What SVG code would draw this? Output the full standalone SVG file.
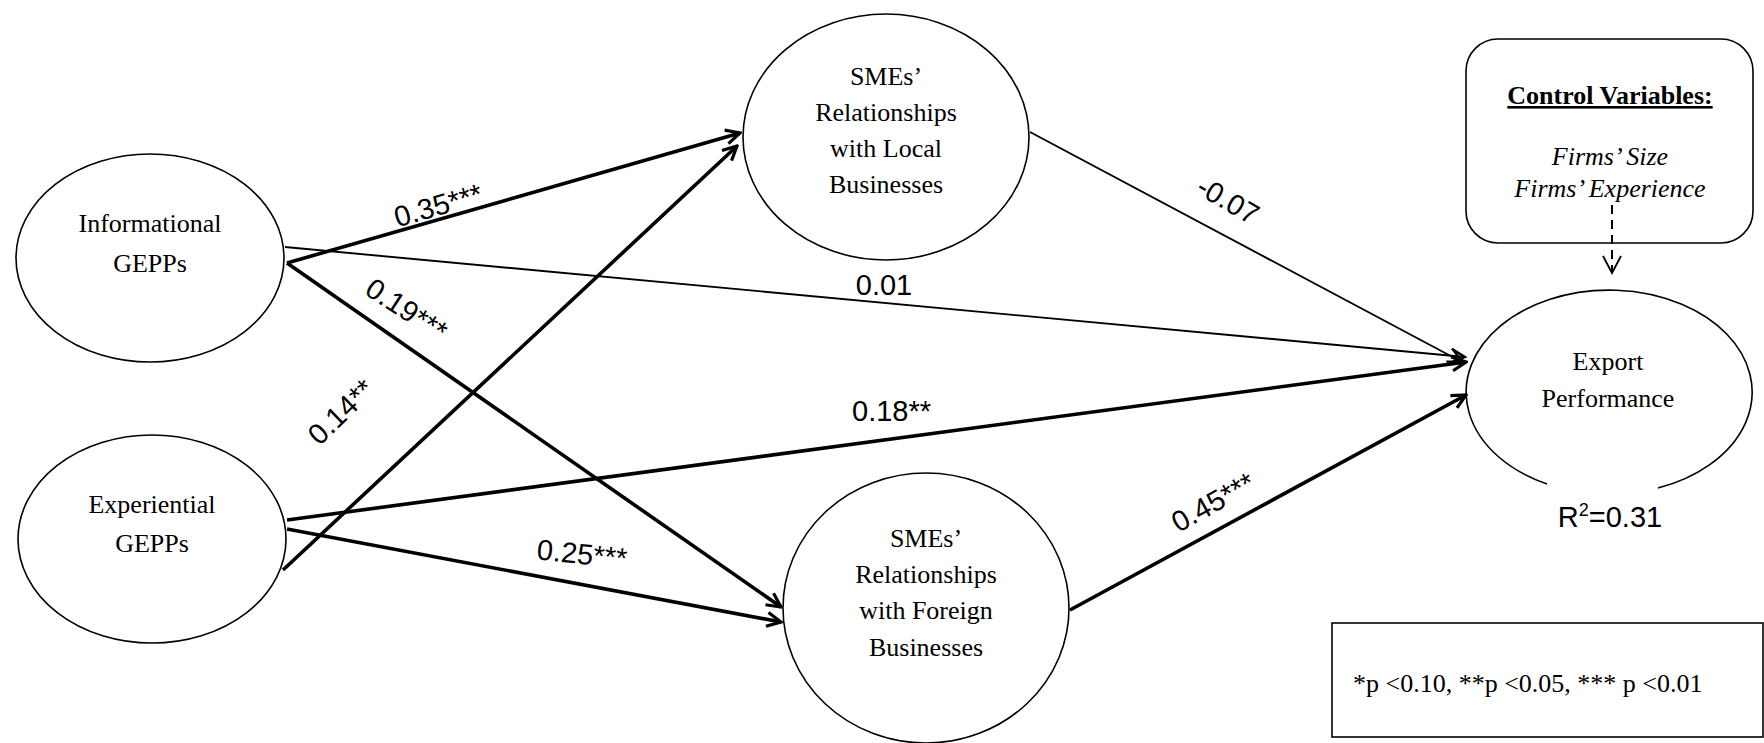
<svg xmlns="http://www.w3.org/2000/svg" width="1764" height="743" viewBox="0 0 1764 743">
<style>
.node{fill:#fff;stroke:#000;stroke-width:1.6}
.lbl{font-family:"Liberation Serif","Times New Roman",serif;font-size:26px;fill:#000;text-anchor:middle}
.coef{font-family:"Liberation Sans",Arial,sans-serif;font-size:29px;fill:#000}
.thick{stroke:#000;stroke-width:3.6;fill:none}
.thin{stroke:#000;stroke-width:1.9;fill:none}
</style>
<defs>
<marker id="ahT" viewBox="0 0 18 18" refX="16" refY="9" markerWidth="18" markerHeight="18" markerUnits="userSpaceOnUse" orient="auto">
<path d="M2,2 L16,9 L2,16" fill="none" stroke="#000" stroke-width="3.2"/>
</marker>
<marker id="ahS" viewBox="0 0 18 18" refX="16" refY="9" markerWidth="18" markerHeight="18" markerUnits="userSpaceOnUse" orient="auto">
<path d="M2,2 L16,9 L2,16" fill="none" stroke="#000" stroke-width="2.4"/>
</marker>
<marker id="ahD" viewBox="0 0 20 20" refX="18" refY="10" markerWidth="20" markerHeight="20" markerUnits="userSpaceOnUse" orient="auto">
<path d="M1,1 L18,10 L1,19" fill="none" stroke="#000" stroke-width="1.8"/>
</marker>
</defs>
<rect width="1764" height="743" fill="#fff"/>

<g id="informational">
<ellipse class="node" cx="150" cy="258" rx="134" ry="104"/>
<text class="lbl" x="150" y="232">Informational</text>
<text class="lbl" x="150" y="272">GEPPs</text>
</g>

<g id="experiential">
<ellipse class="node" cx="152" cy="539" rx="134" ry="104"/>
<text class="lbl" x="152" y="513">Experiential</text>
<text class="lbl" x="152" y="552">GEPPs</text>
</g>

<g id="local">
<ellipse class="node" cx="886" cy="137" rx="143" ry="123"/>
<text class="lbl" x="886" y="85">SMEs’</text>
<text class="lbl" x="886" y="121">Relationships</text>
<text class="lbl" x="886" y="157">with Local</text>
<text class="lbl" x="886" y="193">Businesses</text>
</g>

<g id="foreign">
<ellipse class="node" cx="926" cy="608" rx="143" ry="135"/>
<text class="lbl" x="926" y="547">SMEs’</text>
<text class="lbl" x="926" y="583">Relationships</text>
<text class="lbl" x="926" y="619">with Foreign</text>
<text class="lbl" x="926" y="656">Businesses</text>
</g>

<g id="export">
<path class="node" d="M1547,484 A143,102 0 1 1 1658,488"/>
<text class="lbl" x="1608" y="370">Export</text>
<text class="lbl" x="1608" y="407">Performance</text>
<text class="coef" text-anchor="middle" x="1610" y="527">R<tspan font-size="18" dy="-11">2</tspan><tspan dy="11">=0.31</tspan></text>
</g>

<g id="controls">
<rect class="node" x="1466" y="39" width="287" height="204" rx="32" ry="32"/>
<text class="lbl" x="1610" y="104" font-weight="bold" text-decoration="underline" font-size="27">Control Variables:</text>
<text class="lbl" x="1610" y="165" font-style="italic" font-size="27">Firms’ Size</text>
<text class="lbl" x="1610" y="197" font-style="italic" font-size="27">Firms’ Experience</text>
</g>

<g id="legend">
<rect class="node" x="1332" y="623" width="431" height="114"/>
<text class="lbl" x="1353" y="692" font-size="27" style="text-anchor:start">*p &lt;0.10, **p &lt;0.05, *** p &lt;0.01</text>
</g>

<g id="connectors">
<line class="thin" x1="285" y1="247" x2="1465" y2="357" marker-end="url(#ahS)"/>
<line class="thin" x1="1030" y1="132" x2="1462" y2="362" marker-end="url(#ahS)"/>
<line class="thick" x1="287" y1="263" x2="740" y2="133" marker-end="url(#ahT)"/>
<line class="thick" x1="283" y1="570" x2="737" y2="146" marker-end="url(#ahT)"/>
<line class="thick" x1="287" y1="263" x2="781" y2="607" marker-end="url(#ahT)"/>
<line class="thick" x1="287" y1="529" x2="781" y2="622" marker-end="url(#ahT)"/>
<line class="thick" x1="287" y1="520" x2="1466" y2="362" marker-end="url(#ahT)"/>
<line class="thick" x1="1070" y1="610" x2="1466" y2="395" marker-end="url(#ahT)"/>
<line x1="1612" y1="205" x2="1612" y2="273" stroke="#000" stroke-width="2" stroke-dasharray="9,6" marker-end="url(#ahD)"/>
</g>

<g id="labels">
<text class="coef" text-anchor="middle" transform="translate(441,215) rotate(-16)">0.35***</text>
<text class="coef" text-anchor="middle" transform="translate(401,318) rotate(33)">0.19***</text>
<text class="coef" text-anchor="middle" transform="translate(348,419) rotate(-44)">0.14**</text>
<text class="coef" text-anchor="middle" transform="translate(581,564) rotate(6)">0.25***</text>
<text class="coef" x="852" y="421">0.18**</text>
<text class="coef" text-anchor="middle" x="884" y="295">0.01</text>
<text class="coef" text-anchor="middle" transform="translate(1223,209) rotate(30)">-0.07</text>
<text class="coef" text-anchor="middle" transform="translate(1218,511) rotate(-29)">0.45***</text>
</g>
</svg>
